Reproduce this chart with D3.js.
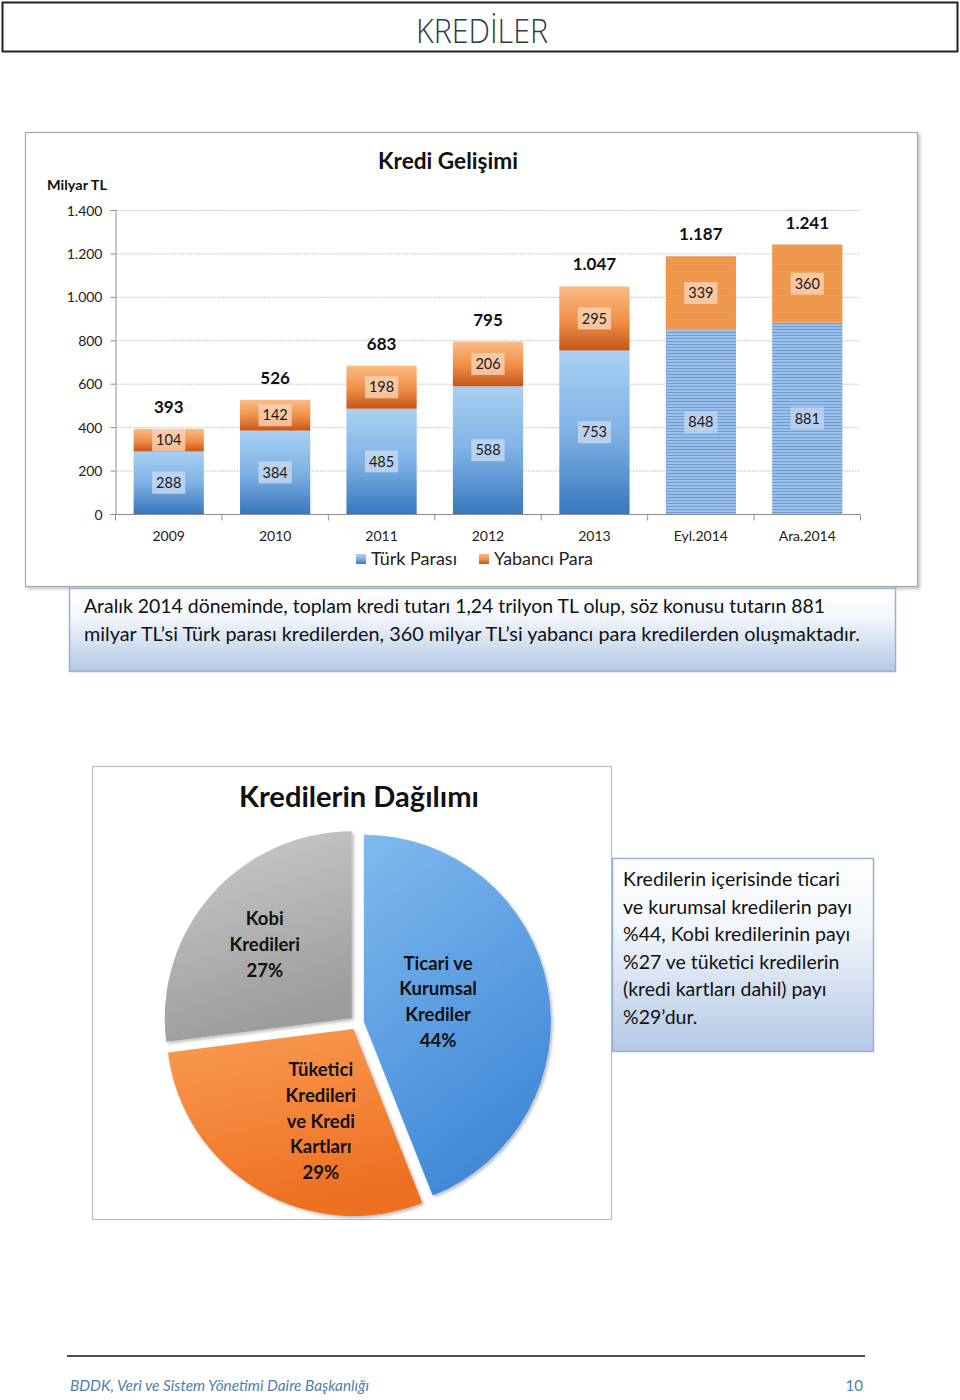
<!DOCTYPE html>
<html><head><meta charset="utf-8">
<script src="https://cdn.jsdelivr.net/npm/d3@7"></script>
<style>
body{margin:0;background:#fff;}
svg{display:block;font-family:Lato,"Open Sans",sans-serif;}
</style></head>
<body>
<svg id="page" width="960" height="1400"></svg>
<script>
// ---------- DATA ----------
const categories = ["2009","2010","2011","2012","2013","Eyl.2014","Ara.2014"];
const turkParasi = [288,384,485,588,753,848,881];
const yabanciPara = [104,142,198,206,295,339,360];
const totals = [393,526,683,795,1047,1187,1241];
const yTicks = [0,200,400,600,800,1000,1200,1400];
const seriesNames = ["Türk Parası","Yabancı Para"];

const pieNames = ["Ticari ve Kurumsal Krediler","Tüketici Kredileri ve Kredi Kartları","Kobi Kredileri"];
const pieLines = [["Ticari ve","Kurumsal","Krediler"],["Tüketici","Kredileri","ve Kredi","Kartları"],["Kobi","Kredileri"]];
const pieValues = [44,29,27];

const note1 = ["Aralık 2014 döneminde, toplam kredi tutarı 1,24 trilyon TL olup, söz konusu tutarın 881",
               "milyar TL’si Türk parası kredilerden, 360 milyar TL’si yabancı para kredilerden oluşmaktadır."];
const note2 = ["Kredilerin içerisinde ticari","ve kurumsal kredilerin payı","%44, Kobi kredilerinin payı",
               "%27 ve tüketici kredilerin","(kredi kartları dahil) payı","%29’dur."];

// ---------- SETUP ----------
const svg = d3.select("#page");
const defs = svg.append("defs");
const tr = d3.formatLocale({decimal:",",thousands:".",grouping:[3],currency:["","TL"]});
const fmt = tr.format(",d");

function vgrad(id, stops, x2="0", y2="1"){
  const g = defs.append("linearGradient").attr("id",id).attr("x1",0).attr("y1",0).attr("x2",x2).attr("y2",y2);
  stops.forEach(s=>g.append("stop").attr("offset",s[0]).attr("stop-color",s[1]));
}
vgrad("gBlue",[[0,"#A9D0F2"],[0.5,"#7FB2E6"],[1,"#3877BD"]]);
vgrad("gOrange",[[0,"#FBBC86"],[0.55,"#F08E45"],[1,"#C4561A"]]);
vgrad("gBox",[[0,"#FFFFFF"],[0.35,"#F2F6FC"],[1,"#B4C8E6"]]);
vgrad("pBlue",[[0,"#80BAEE"],[1,"#4289D8"]],"0.4","1");
vgrad("pOrange",[[0,"#FA9C52"],[1,"#EE7023"]],"0.3","1");
vgrad("pGrey",[[0,"#CDCDCD"],[1,"#9C9C9C"]],"0.3","1");

// stripes pattern for 2014 bars
const pb = defs.append("pattern").attr("id","stripeBlue").attr("patternUnits","userSpaceOnUse").attr("width",6).attr("height",3);
pb.append("rect").attr("width",6).attr("height",3).attr("fill","#9CC0EA");
pb.append("rect").attr("y",2).attr("width",6).attr("height",1).attr("fill","#6E9DD6");
const po = defs.append("pattern").attr("id","stripeOrange").attr("patternUnits","userSpaceOnUse").attr("width",6).attr("height",3);
po.append("rect").attr("width",6).attr("height",3).attr("fill","#F09A50");
po.append("rect").attr("y",2).attr("width",6).attr("height",1).attr("fill","#EC944A");

const shadow = defs.append("filter").attr("id","sh").attr("x","-10%").attr("y","-10%").attr("width","130%").attr("height","130%");
shadow.append("feDropShadow").attr("dx",2).attr("dy",2).attr("stdDeviation",1.5).attr("flood-color","#000").attr("flood-opacity",0.25);

// ---------- HEADER ----------
svg.append("rect").attr("x",2.5).attr("y",2.5).attr("width",955).attr("height",49)
  .attr("fill","#fff").attr("stroke","#222").attr("stroke-width",2);
svg.append("text").attr("x",482).attr("y",43).attr("text-anchor","middle")
  .attr("font-family","'Open Sans',sans-serif").attr("font-weight",300)
  .attr("font-size",33).attr("fill","#2E3A47").attr("textLength",132).attr("lengthAdjust","spacingAndGlyphs")
  .text("KREDİLER");

// ---------- BAR CHART ----------
svg.append("rect").attr("x",25.5).attr("y",132.5).attr("width",892).attr("height",454)
  .attr("fill","#fff").attr("stroke","#A6A6A6").attr("stroke-width",1.2).attr("filter","url(#sh)");

const x = d3.scaleBand().domain(categories).range([115.5,860.5]).paddingInner(0.34).paddingOuter(0.17);
const y = d3.scaleLinear().domain([0,1400]).range([514,210]);

svg.append("text").attr("x",448).attr("y",169).attr("text-anchor","middle")
  .attr("font-size",22).attr("font-weight",700).attr("fill","#111")
  .attr("textLength",140).attr("lengthAdjust","spacingAndGlyphs").text("Kredi Gelişimi");
svg.append("text").attr("x",47).attr("y",190).attr("font-size",13).attr("font-weight",700).attr("fill","#111")
  .attr("textLength",60).attr("lengthAdjust","spacingAndGlyphs").text("Milyar TL");

// gridlines
svg.append("g").selectAll("line").data(yTicks.filter(d=>d>0)).join("line")
  .attr("x1",115).attr("x2",860).attr("y1",d=>y(d)+0.5).attr("y2",d=>y(d)+0.5)
  .attr("stroke","#BFBFBF").attr("stroke-width",1).attr("stroke-dasharray","1.5,1.2");

// y axis
const yAxis = svg.append("g").attr("transform","translate(115.5,0)")
  .call(d3.axisLeft(y).tickValues(yTicks).tickFormat(fmt).tickSize(5).tickPadding(8));
yAxis.select(".domain").attr("stroke","#8C8C8C");
yAxis.selectAll(".tick line").attr("stroke","#8C8C8C");
yAxis.selectAll(".tick text").attr("font-family","Lato,sans-serif").attr("font-size",14).attr("fill","#222").attr("dy","0.36em");

// bars
const stacks = categories.map((c,i)=>({c,i,tp:turkParasi[i],yp:yabanciPara[i],tot:totals[i],striped:c.includes("2014")}));
const gBars = svg.append("g");
stacks.forEach(s=>{
  const bx = x(s.c), bw = x.bandwidth();
  gBars.append("rect").attr("x",bx).attr("width",bw)
    .attr("y",y(s.tp)).attr("height",y(0)-y(s.tp))
    .attr("fill",s.striped?"url(#stripeBlue)":"url(#gBlue)");
  gBars.append("rect").attr("x",bx).attr("width",bw)
    .attr("y",y(s.tp+s.yp)).attr("height",y(s.tp)-y(s.tp+s.yp))
    .attr("fill",s.striped?"url(#stripeOrange)":"url(#gOrange)");
});

// x axis
const xAxisG = svg.append("g").attr("transform","translate(0,514.5)");
xAxisG.append("line").attr("x1",115).attr("x2",860).attr("stroke","#8C8C8C");
const bounds = d3.range(categories.length+1).map(i=>115.5+i*(745/categories.length));
xAxisG.selectAll("line.t").data(bounds).join("line").attr("class","t")
  .attr("x1",d=>d).attr("x2",d=>d).attr("y1",0).attr("y2",6).attr("stroke","#8C8C8C");
xAxisG.selectAll("text").data(categories).join("text")
  .attr("x",d=>x(d)+x.bandwidth()/2).attr("y",26).attr("text-anchor","middle")
  .attr("font-size",14).attr("fill","#222").text(d=>d);

// segment labels
function segLabel(cx, cy, val, bg){
  const g = svg.append("g");
  const t = g.append("text").attr("x",cx).attr("y",cy).attr("dy","0.36em").attr("text-anchor","middle")
    .attr("font-size",14.5).attr("fill","#1a1a1a").text(val);
  const w = t.node().getComputedTextLength()+8;
  g.insert("rect","text").attr("x",cx-w/2).attr("y",cy-11).attr("width",w).attr("height",22)
    .attr("fill",bg).attr("opacity",0.8);
}
stacks.forEach(s=>{
  const cx = x(s.c)+x.bandwidth()/2;
  segLabel(cx,(y(0)+y(s.tp))/2, fmt(s.tp), s.striped?"#C3D5EE":"#C9DAF0");
  segLabel(cx,(y(s.tp)+y(s.tp+s.yp))/2, fmt(s.yp), "#FAD3B6");
  svg.append("text").attr("x",cx).attr("y",y(s.tp+s.yp)-16).attr("text-anchor","middle")
    .attr("font-size",17).attr("font-weight",700).attr("fill","#111").text(fmt(s.tot));
});

// legend
const leg = svg.append("g");
[[356,"gBlue",86],[479,"gOrange",99]].forEach((p,i)=>{
  leg.append("rect").attr("x",p[0]).attr("y",554).attr("width",10).attr("height",10).attr("fill",`url(#${p[1]})`);
  leg.append("text").attr("x",p[0]+15).attr("y",565).attr("font-size",17).attr("fill","#222")
    .attr("textLength",p[2]).attr("lengthAdjust","spacingAndGlyphs").text(seriesNames[i]);
});

// ---------- NOTE BOX 1 ----------
svg.append("rect").attr("x",69.5).attr("y",588.5).attr("width",826).attr("height",83)
  .attr("fill","url(#gBox)").attr("stroke","#95B3D7").attr("stroke-width",1.5);
note1.forEach((l,i)=>{
  svg.append("text").attr("x",84).attr("y",613+i*28).attr("font-size",19).attr("fill","#111")
    .attr("textLength",i===0?741:776).attr("lengthAdjust","spacingAndGlyphs").text(l);
});

// ---------- PIE ----------
svg.append("rect").attr("x",92.5).attr("y",766.5).attr("width",519).attr("height",453)
  .attr("fill","#fff").attr("stroke","#BFBFBF").attr("stroke-width",1.2);
svg.append("text").attr("x",359).attr("y",807).attr("text-anchor","middle")
  .attr("font-size",28).attr("font-weight",700).attr("fill","#111")
  .attr("textLength",240).attr("lengthAdjust","spacingAndGlyphs").text("Kredilerin Dağılımı");

const pcx = 357, pcy = 1023, R = 187, explode = 7;
const pie = d3.pie().sort(null).value(d=>d)(pieValues);
const arc = d3.arc().innerRadius(0).outerRadius(R);
const pieFills = ["url(#pBlue)","url(#pOrange)","url(#pGrey)"];
const labelPolar = [[70,79],[201,91],[313,119]]; // [angle deg, radius] of label block
const gp = svg.append("g").attr("transform",`translate(${pcx},${pcy})`);
pie.forEach((p,i)=>{
  const mid = (p.startAngle+p.endAngle)/2;
  const ox = Math.sin(mid)*explode, oy = -Math.cos(mid)*explode;
  const g = gp.append("g").attr("transform",`translate(${ox},${oy})`);
  g.append("path").attr("d",arc(p)).attr("fill",pieFills[i]).attr("filter","url(#sh)");
  const a = labelPolar[i][0]*Math.PI/180, r = labelPolar[i][1];
  const lx = Math.sin(a)*r, ly = -Math.cos(a)*r + 7;
  const lines = pieLines[i].concat([pieValues[i]+"%"]);
  const lh = 25.7;
  lines.forEach((l,j)=>{
    g.append("text").attr("x",lx).attr("y",ly+(j-(lines.length-1)/2)*lh).attr("dy","0.36em")
      .attr("text-anchor","middle").attr("font-size",18.5).attr("font-weight",700).attr("fill","#111").text(l);
  });
});

// ---------- NOTE BOX 2 ----------
svg.append("rect").attr("x",612.5).attr("y",858.5).attr("width",261).attr("height",193)
  .attr("fill","url(#gBox)").attr("stroke","#95B3D7").attr("stroke-width",1.5);
note2.forEach((l,i)=>{
  const t = svg.append("text").attr("x",623).attr("y",886+i*27.6).attr("font-size",19.5).attr("fill","#111").text(l);
  if(i===1) t.attr("textLength",229).attr("lengthAdjust","spacingAndGlyphs");
});

// ---------- FOOTER ----------
svg.append("line").attr("x1",67).attr("x2",865).attr("y1",1356).attr("y2",1356).attr("stroke","#111").attr("stroke-width",1.5);
svg.append("text").attr("x",70).attr("y",1391).attr("font-size",15).attr("font-style","italic").attr("fill","#4F7DB0")
  .attr("textLength",299).attr("lengthAdjust","spacingAndGlyphs").text("BDDK, Veri ve Sistem Yönetimi Daire Başkanlığı");
svg.append("text").attr("x",863).attr("y",1391).attr("text-anchor","end").attr("font-size",15).attr("fill","#4F7DB0").text("10");
</script>
</body></html>
